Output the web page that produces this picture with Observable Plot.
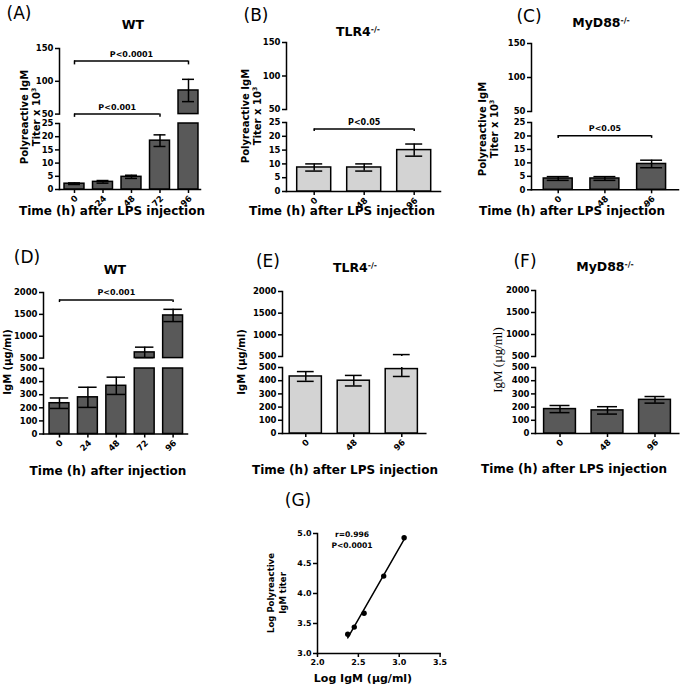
<!DOCTYPE html>
<html>
<head>
<meta charset="utf-8">
<script src="https://cdn.jsdelivr.net/npm/d3@7"></script>
<script src="https://cdn.jsdelivr.net/npm/@observablehq/plot@0.6"></script>
<style>
html,body{margin:0;padding:0;background:#fff;}
#fig{position:relative;width:685px;height:690px;overflow:hidden;background:#fff;color:#000;font-family:"DejaVu Sans",sans-serif;}
.lbl{position:absolute;white-space:nowrap;line-height:1;transform:translate(-50%,-50%);text-align:center;}
.rot{transform:translate(-50%,-50%) rotate(-90deg);}
.letter{font-size:17px;font-weight:normal;}
.title{font-weight:bold;font-size:12.5px;}
.xt{font-weight:bold;font-size:12px;}
.yl{font-weight:bold;font-size:10px;line-height:11.5px;}
.serif{font-family:"Liberation Serif","DejaVu Serif",serif;font-size:13px;}
.ann{font-weight:bold;font-size:7.6px;line-height:10.5px;}
.gy{font-weight:bold;font-size:8.5px;line-height:11.6px;}
.gx{font-weight:bold;font-size:11px;}
sup{font-size:0.62em;vertical-align:0.55em;line-height:0;}
svg.seg{position:absolute;}
svg.seg line, svg.seg path{stroke-width:1.5px;}
</style>
</head>
<body>
<div id="fig"></div>
<script>
// ---------- data ----------
const catsWT = ["0", "24", "48", "72", "96"];
const catsKO = ["0", "48", "96"];

const titerWT = [2.2, 2.9, 4.8, 18.5, 86];
const titerWTErr = [0.3, 0.5, 0.6, 2.2, 17];
const titerTLR4 = [8.7, 8.7, 15.0];
const titerTLR4Err = [1.3, 1.3, 2.2];
const titerMyD88 = [4.2, 4.2, 9.6];
const titerMyD88Err = [0.7, 0.7, 1.4];

const igmWT = [235, 280, 368, 630, 1475];
const igmWTErr = [40, 77, 66, 120, 140];
const igmTLR4 = [432, 400, 488];
const igmTLR4Err = [37, 40, 56];
const igmMyD88 = [185, 175, 255];
const igmMyD88Err = [27, 28, 25];

const logIgM = [2.37, 2.45, 2.57, 2.81, 3.06];
const logTiter = [3.32, 3.44, 3.67, 4.29, 4.93];

const titerTicksLow = [0, 5, 10, 15, 20, 25];
const titerTicksHigh = [50, 100, 150];
const igmTicksLow = [0, 100, 200, 300, 400, 500];
const igmTicksHigh = [500, 1000, 1500, 2000];
const gTicksX = [2.0, 2.5, 3.0, 3.5];
const gTicksY = [3.0, 3.5, 4.0, 4.5, 5.0];

const bracketsA = [
  {from: 0, to: 4, y: 131, drop: 125, label: "P<0.0001"},
  {from: 0, to: 3, y: 50, drop: 45, label: "P<0.001"}
];
const bracketsB = [{from: 0, to: 2, y: 22.6, drop: 21.7, label: "P<0.05"}];
const bracketsC = [{from: 0, to: 2, y: 20.1, drop: 19.1, label: "P<0.05"}];
const bracketsD = [{from: 0, to: 4, y: 1830, drop: 1770, label: "P<0.001"}];

const panelLetters = ["(A)", "(B)", "(C)", "(D)", "(E)", "(F)", "(G)"];
const panelTitles = ["WT", "TLR4<sup>-/-</sup>", "MyD88<sup>-/-</sup>", "WT", "TLR4<sup>-/-</sup>", "MyD88<sup>-/-</sup>"];
const xTitles = ["Time (h) after LPS injection", "Time (h) after LPS injection", "Time (h) after LPS injection",
                 "Time (h) after injection", "Time (h) after LPS injection", "Time (h) after LPS injection"];
const titerLabel = "Polyreactive IgM<br>Titer x 10<sup>3</sup>";
const igmLabel = "IgM (µg/ml)";
const gYLabel = "Log Polyreactive<br>IgM titer";
const gXLabel = "Log IgM (µg/ml)";
const gStats = "r=0.996<br>P&lt;0.0001";

// ---------- helpers ----------
const fig = document.getElementById("fig");
const dark = "#595959", light = "#d3d3d3";

function addLabel(html, x, y, cls) {
  const d = document.createElement("div");
  d.className = "lbl " + cls;
  d.innerHTML = html;
  d.style.left = x + "px";
  d.style.top = y + "px";
  fig.appendChild(d);
}
function place(svg, left, top) {
  svg.classList.add("seg");
  svg.style.left = left + "px";
  svg.style.top = top + "px";
  fig.appendChild(svg);
}
const svgStyle = {background: "none", overflow: "visible", fontFamily: "DejaVu Sans", fontSize: "8.5px", fontWeight: "bold", color: "black"};

function barPanel(p) {
  const rows = p.vals.map((v, i) => ({i, v, e: p.errs[i]}));
  const ML = 42, MR = 10;
  const W = ML + (p.right - p.left) + MR;
  for (const segName of ["up", "low"]) {
    const seg = p[segName];
    const domain = d3.extent(seg.ticks);
    const [lo, hi] = domain;
    const isLow = segName === "low";
    const MT = 22, MB = isLow ? 34 : 8;
    const H = MT + (seg.px[1] - seg.px[0]) + MB;
    const bars = rows.filter(d => d.v > lo);
    const stems = rows.filter(d => d.v + d.e > lo && d.v - d.e < hi);
    const caps = rows.flatMap(d => [d.v - d.e, d.v + d.e].filter(y => y >= lo && y <= hi).map(y => ({i: d.i, y})));
    const upLo = d3.min(p.up.ticks);
    const br = p.brackets.filter(b => (b.y >= upLo) !== isLow);
    const brTicks = br.flatMap(b => [{x: b.from, y1: b.drop, y2: b.y}, {x: b.to, y1: b.drop, y2: b.y}]);
    const marks = [
      Plot.rect(bars, {x1: d => d.i - p.bw / 2, x2: d => d.i + p.bw / 2, y1: () => lo, y2: d => Math.min(d.v, hi), fill: p.fill, stroke: "black", strokeWidth: 1.5}),
      Plot.ruleX(stems, {x: "i", y1: d => Math.max(d.v - d.e, lo), y2: d => Math.min(d.v + d.e, hi), stroke: "black"}),
      Plot.ruleY(caps, {y: "y", x1: d => d.i - p.cw / 2, x2: d => d.i + p.cw / 2, stroke: "black"}),
      Plot.ruleY(br, {y: "y", x1: "from", x2: "to", stroke: "black"}),
      Plot.ruleX(brTicks, {x: "x", y1: "y1", y2: "y2", stroke: "black"}),
      Plot.text(br, {x: d => (d.from + d.to) / 2, y: "y", text: "label", dy: -7, fontSize: 8, fill: "black"})
    ];
    if (isLow) {
      marks.push(Plot.text(rows, {x: "i", y: () => lo, text: d => p.cats[d.i], rotate: -45, textAnchor: "end", lineAnchor: "middle", dx: 2, dy: 7.5, fontSize: 8.5, fill: "black"}));
    }
    const svg = Plot.plot({
      width: W, height: H,
      marginLeft: ML, marginRight: MR, marginTop: MT, marginBottom: MB,
      style: svgStyle,
      x: isLow
        ? {domain: p.xd, ticks: d3.range(p.cats.length), tickFormat: () => "", tickSize: 4, line: true, label: null}
        : {domain: p.xd, axis: null},
      y: {domain, ticks: seg.ticks, tickFormat: d3.format("d"), tickSize: 4, tickPadding: 2, line: true, label: null},
      marks
    });
    place(svg, p.left - ML, seg.px[0] - MT);
  }
}

// ---------- panels ----------
barPanel({left: 59, right: 200, xd: [-0.526, 4.421], bw: 0.70, cw: 0.42, fill: dark, cats: catsWT,
  vals: titerWT, errs: titerWTErr, brackets: bracketsA,
  up: {ticks: titerTicksHigh, px: [47.7, 113.3]}, low: {ticks: titerTicksLow, px: [123.3, 189.3]}});
barPanel({left: 286, right: 440, xd: [-0.554, 2.526], bw: 0.68, cw: 0.34, fill: light, cats: catsKO,
  vals: titerTLR4, errs: titerTLR4Err, brackets: bracketsB,
  up: {ticks: titerTicksHigh, px: [42.3, 109.3]}, low: {ticks: titerTicksLow, px: [121.7, 190.7]}});
barPanel({left: 531, right: 678, xd: [-0.572, 2.576], bw: 0.62, cw: 0.47, fill: dark, cats: catsKO,
  vals: titerMyD88, errs: titerMyD88Err, brackets: bracketsC,
  up: {ticks: titerTicksHigh, px: [42.7, 110.7]}, low: {ticks: titerTicksLow, px: [121.7, 189]}});
barPanel({left: 43, right: 187, xd: [-0.563, 4.507], bw: 0.70, cw: 0.65, fill: dark, cats: catsWT,
  vals: igmWT, errs: igmWTErr, brackets: bracketsD,
  up: {ticks: igmTicksHigh, px: [291.7, 357.3]}, low: {ticks: igmTicksLow, px: [367.5, 433]}});
barPanel({left: 281.7, right: 425, xd: [-0.485, 2.5], bw: 0.67, cw: 0.35, fill: light, cats: catsKO,
  vals: igmTLR4, errs: igmTLR4Err, brackets: [],
  up: {ticks: igmTicksHigh, px: [291, 356]}, low: {ticks: igmTicksLow, px: [366.7, 432.7]}});
barPanel({left: 535, right: 678.3, xd: [-0.516, 2.501], bw: 0.67, cw: 0.42, fill: dark, cats: catsKO,
  vals: igmMyD88, errs: igmMyD88Err, brackets: [],
  up: {ticks: igmTicksHigh, px: [290, 356]}, low: {ticks: igmTicksLow, px: [366.7, 432.7]}});

// ---------- panel G ----------
{
  const pts = logIgM.map((x, i) => ({x, y: logTiter[i]}));
  const left = 316.7, right = 439.3, top = 533.3, bottom = 653.3;
  const ML = 36, MT = 10, MB = 30, MR = 15;
  const svg = Plot.plot({
    width: ML + (right - left) + MR, height: MT + (bottom - top) + MB,
    marginLeft: ML, marginRight: MR, marginTop: MT, marginBottom: MB,
    style: {...svgStyle, fontSize: "8px"},
    x: {domain: d3.extent(gTicksX), ticks: gTicksX, tickFormat: d3.format(".1f"), tickSize: 4, tickPadding: 2, line: true, label: null},
    y: {domain: d3.extent(gTicksY), ticks: gTicksY, tickFormat: d3.format(".1f"), tickSize: 4, tickPadding: 2, line: true, label: null},
    marks: [
      Plot.linearRegressionY(pts, {x: "x", y: "y", ci: 0, stroke: "black", strokeWidth: 1.2}),
      Plot.dot(pts, {x: "x", y: "y", r: 2.7, fill: "black"})
    ]
  });
  place(svg, left - ML, top - MT);
}

// ---------- text ----------
const letterPos = [[19, 13], [256, 15], [529, 16], [27, 257], [268, 261], [525, 261], [298, 500]];
panelLetters.forEach((t, k) => addLabel(t, letterPos[k][0], letterPos[k][1], "letter"));
const titlePos = [[133, 25], [358, 32], [601, 23], [115, 270], [355, 268], [605, 267]];
panelTitles.forEach((t, k) => addLabel(t, titlePos[k][0], titlePos[k][1], "title"));
const xTitlePos = [[112, 211], [342, 211], [572, 211], [108, 471], [345, 470], [574, 469]];
xTitles.forEach((t, k) => addLabel(t, xTitlePos[k][0], xTitlePos[k][1], "xt"));
[[29.5, 117], [251, 116], [487.5, 129]].forEach(([x, y]) => addLabel(titerLabel, x, y, "yl rot"));
addLabel(igmLabel, 8, 362, "yl rot");
addLabel(igmLabel, 242, 362, "yl rot");
addLabel(igmLabel, 497, 360, "serif rot");
addLabel(gYLabel, 277.5, 593, "gy rot");
addLabel(gXLabel, 363, 678, "gx");
addLabel(gStats, 352, 540, "ann");
</script>
</body>
</html>
